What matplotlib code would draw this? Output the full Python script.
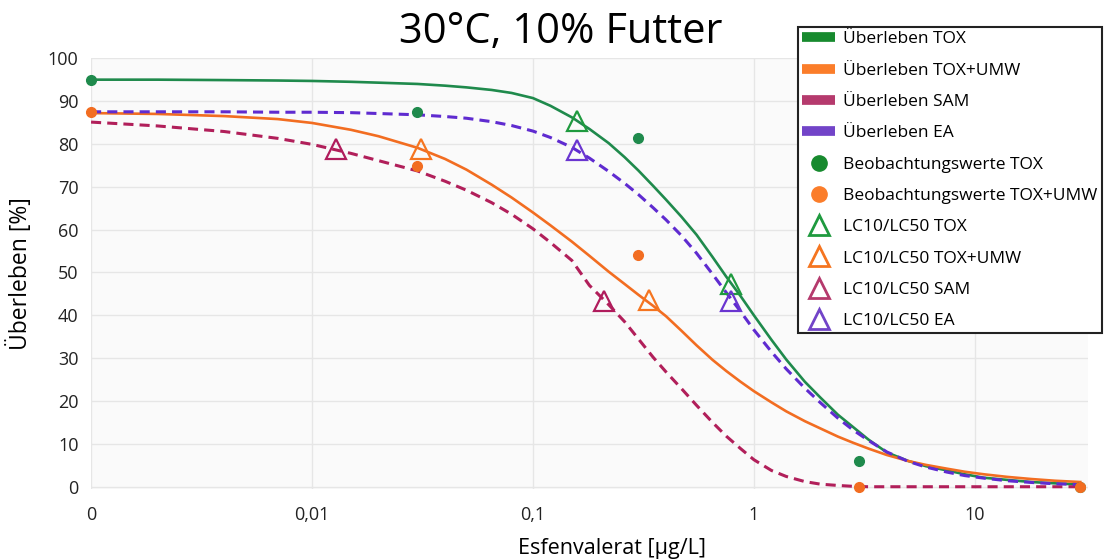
import matplotlib
matplotlib.use("Agg")
import matplotlib.pyplot as plt
from matplotlib.lines import Line2D

plt.rcParams["font.family"] = ["Open Sans", "DejaVu Sans"]

# concentrations in µg/L; the control ("0") sits at 0.001 on the log axis
conc = [0.001, 0.002, 0.004, 0.007, 0.01, 0.015, 0.02, 0.03, 0.04, 0.05, 0.065,
        0.08, 0.1, 0.12, 0.15, 0.18, 0.22, 0.26, 0.3, 0.35, 0.4, 0.47, 0.55,
        0.65, 0.75, 0.87, 1.0, 1.2, 1.4, 1.7, 2.0, 2.4, 2.8, 3.3, 4.0, 5.0,
        6.0, 7.5, 9, 11, 14, 18, 23, 30]

surv_tox = [95.0, 95.0, 94.9, 94.8, 94.7, 94.5, 94.3, 94.0, 93.6, 93.2, 92.6,
            91.9, 90.7, 88.9, 86.2, 83.5, 80.2, 76.9, 73.8, 70.2, 67.0, 63.0, 58.8,
            53.6, 49.0, 44.5, 40.0, 34.3, 29.7, 24.5, 20.8, 16.8, 14.0, 11.0, 8.0, 6.0,
            4.8, 3.8, 2.9, 2.1, 1.6, 1.1, 0.8, 0.5]
surv_umw = [87.2, 87.0, 86.5, 85.8, 84.9, 83.3, 81.8, 79.1, 76.5, 74.0, 70.5,
            67.5, 64.0, 61.0, 57.2, 53.9, 50.2, 47.3, 44.8, 42.2, 39.8, 36.4, 33.0,
            29.6, 27.0, 24.5, 22.3, 19.7, 17.6, 15.3, 13.6, 11.7, 10.3, 8.9, 7.4, 6.0,
            5.1, 4.2, 3.5, 2.9, 2.3, 1.8, 1.4, 1.1]
surv_sam = [85.1, 84.2, 82.9, 81.3, 79.9, 77.8, 76.1, 73.7, 71.3, 69.2, 66.3,
            63.6, 60.2, 57.0, 52.8, 47.0, 42.5, 38.5, 34.5, 30.2, 26.8, 22.9, 19.0,
            15.0, 11.8, 8.9, 6.3, 3.8, 2.4, 1.2, 0.6, 0.3, 0.1, 0.0, 0.0, 0.0,
            0.0, 0.0, 0.0, 0.0, 0.0, 0.0, 0.0, 0.0]
surv_ea = [87.5, 87.5, 87.5, 87.4, 87.4, 87.3, 87.1, 86.8, 86.4, 86.0, 85.2,
           84.3, 83.0, 81.5, 79.2, 76.7, 73.6, 70.8, 68.2, 65.1, 62.3, 58.6, 54.5,
           49.6, 45.3, 40.9, 36.6, 31.5, 27.5, 23.0, 19.6, 16.0, 13.3, 10.8, 8.1, 5.9,
           4.6, 3.4, 2.6, 2.0, 1.4, 1.0, 0.7, 0.5]

# observed survival
conc_obs = [0.001, 0.03, 0.3, 3, 30]
obs_tox = [95.0, 87.5, 81.3, 5.9, 0.0]
obs_umw = [87.5, 74.9, 54.0, 0.0, 0.0]

# LC10 / LC50 points (concentration, survival)
lc_tox_x, lc_tox_y = [0.159, 0.79], [85.3, 47.2]
lc_umw_x, lc_umw_y = [0.031, 0.336], [78.8, 43.5]
lc_sam_x, lc_sam_y = [0.0128, 0.21], [78.8, 43.3]
lc_ea_x, lc_ea_y = [0.159, 0.787], [78.6, 43.4]

xticks = [0.001, 0.01, 0.1, 1, 10]
xticklabels = ["0", "0,01", "0,1", "1", "10"]

c_tox, c_umw, c_sam, c_ea = "#1f8a4c", "#f26d21", "#b11f5a", "#5f2bd0"
t_tox, t_umw, t_sam, t_ea = "#1f9a3f", "#f57520", "#b01c5c", "#6a35d0"

fig = plt.figure(figsize=(11.05, 5.6), dpi=100)
ax = fig.add_axes([0.0824, 0.127, 0.9022, 0.769])
ax.set_facecolor("#fafafa")

ax.plot(conc, surv_tox, color=c_tox, lw=1.9, zorder=3)
ax.plot(conc, surv_umw, color=c_umw, lw=1.9, zorder=3)
ax.plot(conc, surv_sam, color=c_sam, lw=2.2, dashes=(3.3, 2.0), zorder=3)
ax.plot(conc, surv_ea, color=c_ea, lw=2.2, dashes=(3.3, 2.0), zorder=3)

ax.plot(conc_obs, obs_tox, "o", color="#1f8a4c", ms=7, clip_on=False, zorder=4)
ax.plot(conc_obs, obs_umw, "o", color="#f26d21", ms=7, clip_on=False, zorder=4)

for xs, ys, col in [(lc_tox_x, lc_tox_y, t_tox), (lc_umw_x, lc_umw_y, t_umw),
                    (lc_sam_x, lc_sam_y, t_sam), (lc_ea_x, lc_ea_y, t_ea)]:
    ax.plot(xs, ys, "^", ms=14, mfc="none", mec=col, mew=1.6, zorder=5)

ax.set_xscale("log")
ax.set_xlim(0.001, 32.5)
ax.set_ylim(-0.5, 100)
ax.set_xticks(xticks)
ax.set_xticklabels(xticklabels)
ax.minorticks_off()
ax.set_yticks(range(0, 101, 10))
ax.tick_params(length=0, labelsize=13, colors="#222222")
ax.tick_params(axis="x", pad=12)
ax.tick_params(axis="y", pad=9)
ax.grid(True, color="#e6e6e6", lw=1)
ax.set_axisbelow(True)
for s in ax.spines.values():
    s.set_visible(False)

ax.set_xlabel("Esfenvalerat [µg/L]", fontsize=15.5)
ax.set_ylabel("Überleben [%]", fontsize=16.5)
ax.xaxis.set_label_coords(0.523, -0.115)
ax.yaxis.set_label_coords(-0.058, 0.5)
fig.text(0.507, 0.943, "30°C, 10% Futter", fontsize=30, ha="center", va="center")

handles = [
    Line2D([0], [0], color="#178a2e", lw=7, solid_capstyle="butt"),
    Line2D([0], [0], color="#fb7d2a", lw=7, solid_capstyle="butt"),
    Line2D([0], [0], color="#b53a6d", lw=7, solid_capstyle="butt"),
    Line2D([0], [0], color="#7244c8", lw=7, solid_capstyle="butt"),
    Line2D([0], [0], ls="none", marker="o", ms=11, color="#178a2e"),
    Line2D([0], [0], ls="none", marker="o", ms=11, color="#fb7d2a"),
    Line2D([0], [0], ls="none", marker="^", ms=15, mfc="none", mec="#1f9a3f", mew=2),
    Line2D([0], [0], ls="none", marker="^", ms=15, mfc="none", mec="#f57520", mew=2),
    Line2D([0], [0], ls="none", marker="^", ms=15, mfc="none", mec="#b53a6d", mew=2),
    Line2D([0], [0], ls="none", marker="^", ms=15, mfc="none", mec="#7244c8", mew=2),
]
labels = ["Überleben TOX", "Überleben TOX+UMW", "Überleben SAM", "Überleben EA",
          "Beobachtungswerte TOX", "Beobachtungswerte TOX+UMW",
          "LC10/LC50 TOX", "LC10/LC50 TOX+UMW", "LC10/LC50 SAM", "LC10/LC50 EA"]
leg = fig.legend(handles, labels, loc="upper left", bbox_to_anchor=(0.7222, 0.952),
                 bbox_transform=fig.transFigure, fontsize=12.5, frameon=True,
                 fancybox=False, framealpha=1, edgecolor="#222222",
                 handlelength=1.9, handletextpad=0.45, labelspacing=0.873,
                 borderpad=0.25, borderaxespad=0)
leg.get_frame().set_linewidth(1.5)

fig.savefig("out.png", dpi=100)
